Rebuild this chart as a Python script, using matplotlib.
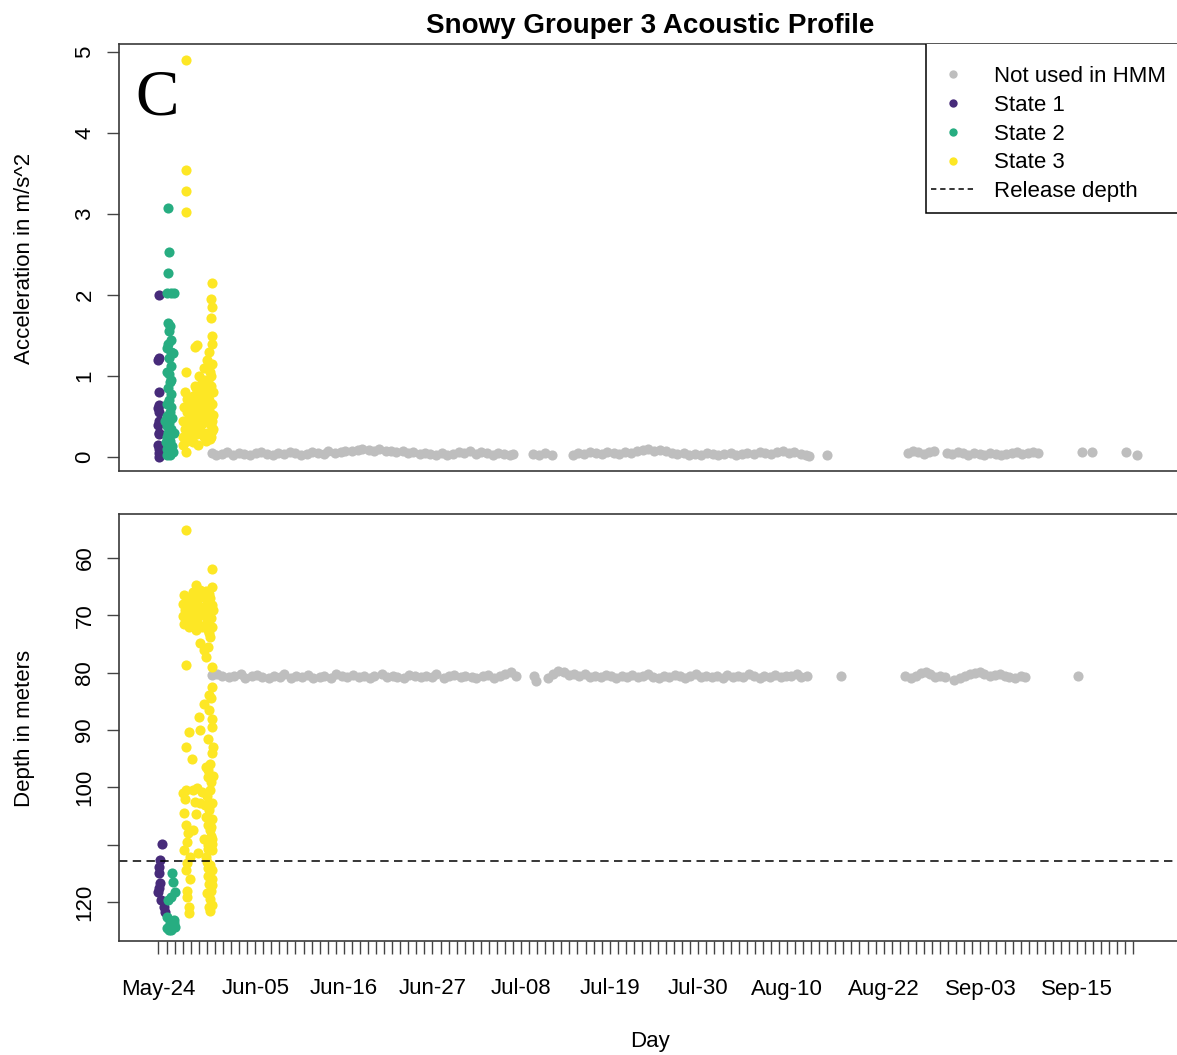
import datetime as dt
import matplotlib
matplotlib.use("Agg")
import matplotlib.pyplot as plt
from matplotlib.lines import Line2D
from matplotlib.patches import Rectangle

plt.rcParams['font.family'] = ['Liberation Sans', 'DejaVu Sans']

start = dt.date(2019, 5, 24)
x_labels = ["May-24", "Jun-05", "Jun-16", "Jun-27", "Jul-08", "Jul-19",
            "Jul-30", "Aug-10", "Aug-22", "Sep-03", "Sep-15"]
last_tick = "Sep-22"
release_depth = 112.9

state_names = ["Not used in HMM", "State 1", "State 2", "State 3"]
state_colors = ["#BEBEBE", "#472B7A", "#27AD81", "#FDE725"]

# ---- acceleration (m/s^2); times are days since May-24 ----
s1_acc_t = [0.05, 0.1, 0.0, 0.1, 0.05, 0.0, 0.1, 0.05, 0.0, 0.1, 0.05, 0.0,
            0.1, 0.05, 0.1]
s1_acc = [2.00, 1.22, 1.20, 0.80, 0.64, 0.60, 0.55, 0.45, 0.40, 0.30, 0.28,
          0.15, 0.10, 0.05, 0.00]

s2_acc_t = [1.2, 1.25, 1.2, 1.1, 1.5, 1.9,
            1.2, 1.4, 1.3, 1.5, 1.2, 1.0, 1.6, 1.8, 1.3, 1.5, 1.3, 1.4, 1.2,
            1.5, 1.3, 1.1, 1.6, 1.4, 1.0, 1.7, 1.3, 1.1, 1.5, 1.2, 1.6, 1.0,
            1.4, 1.2, 1.7, 1.0, 1.3, 1.5, 1.1, 1.4, 1.8, 0.9, 0.8, 1.9, 1.6,
            1.0]
s2_acc = [3.07, 2.53, 2.27, 2.03, 2.03, 2.03,
          1.65, 1.62, 1.55, 1.45, 1.40, 1.35, 1.30, 1.28, 1.22, 1.12, 1.02,
          0.92, 0.85, 0.78, 0.70, 0.65, 0.62, 0.55, 0.50, 0.48, 0.42, 0.38,
          0.35, 0.30, 0.28, 0.25, 0.20, 0.16, 0.14, 0.10, 0.08, 0.05, 0.03,
          0.02, 0.06, 0.18, 0.45, 0.30, 0.95, 1.05]

s3_acc_t = [3.4, 3.4, 3.4, 3.4, 6.6, 6.5, 6.6, 6.5, 3.4, 3.4, 4.8, 4.5, 6.65,
            3.0, 3.1, 3.2, 3.3, 3.5, 3.6, 3.7, 3.8, 3.9, 4.0, 4.1, 4.2, 4.3,
            4.4, 4.5, 4.6, 4.7, 4.8, 4.9, 5.0, 5.0, 5.1, 5.2, 5.3, 5.4, 5.5,
            5.6, 5.6, 5.7, 5.8, 5.9, 6.0, 6.0, 6.1, 6.2, 6.2, 6.3, 6.3, 6.4,
            6.4, 6.5, 6.5, 6.6, 6.6, 6.7, 6.7, 6.8, 6.8, 6.5, 6.3, 6.7,
            3.1, 3.3, 3.5, 3.7, 3.9, 4.1, 4.3, 4.5, 4.7, 4.9, 5.1, 5.3, 5.5,
            5.7, 5.9, 6.1, 6.3, 6.5, 6.7, 3.6, 4.0, 4.4, 4.8, 5.2, 5.6, 6.0,
            6.4, 6.8, 5.4, 6.2]
s3_acc = [4.90, 3.54, 3.28, 3.03, 2.15, 1.95, 1.85, 1.72, 1.05, 0.06, 1.38,
          1.36, 1.49,
          0.25, 0.45, 0.62, 0.35, 0.55, 0.72, 0.30, 0.48, 0.65, 0.22, 0.40,
          0.58, 0.75, 0.33, 0.50, 0.68, 0.85, 0.28, 0.45, 0.62, 1.00, 0.80,
          0.35, 0.55, 0.92, 0.70, 0.25, 1.10, 0.48, 0.85, 0.62, 1.20, 0.30,
          0.95, 0.45, 0.75, 1.30, 0.58, 1.05, 0.22, 0.88, 0.40, 1.40, 0.65,
          1.15, 0.32, 0.80, 0.52, 1.00, 0.70, 0.45,
          0.15, 0.80, 0.20, 0.58, 0.35, 0.70, 0.18, 0.88, 0.40, 0.15, 0.55,
          0.78, 0.42, 0.95, 0.20, 0.58, 0.85, 0.25, 0.50, 0.40, 0.55, 0.62,
          0.50, 0.68, 0.82, 0.70, 0.48, 0.35, 0.30, 1.12]

gray_acc_t = [6.6, 7.2, 7.9, 8.5, 9.3, 10.0, 10.6, 11.4, 12.1, 12.7,
              13.5, 14.2, 14.8, 15.6, 16.3, 16.9, 17.7, 18.4, 19.0, 19.8,
              20.5, 21.1, 21.9, 22.6, 23.2, 24.0, 24.7, 25.3, 26.1, 26.8,
              27.4, 28.2, 28.9, 29.5, 30.3, 31.0, 31.6, 32.4, 33.1, 33.7,
              34.5, 35.2, 35.8, 36.6, 37.3, 37.9, 38.7, 39.4, 40.0, 40.8,
              41.5, 42.1, 42.9, 43.6, 44.0,
              46.5, 47.2, 48.0, 48.8,
              51.4, 52.1, 52.8, 53.6, 54.3, 55.0, 55.7, 56.5, 57.2, 57.9,
              58.6, 59.4, 60.1, 60.8, 61.5, 62.3, 63.0, 63.7, 64.4, 65.2,
              65.9, 66.6, 67.3, 68.1, 68.8, 69.5, 70.2, 71.0, 71.7, 72.4,
              73.1, 73.9, 74.6, 75.3, 76.0, 76.8, 77.5, 78.2, 78.9, 79.7,
              80.4, 80.7,
              83.0,
              93.0, 93.6, 94.3, 95.0, 95.6, 96.3, 97.9, 98.5, 99.2, 99.9,
              100.5, 101.2, 101.9, 102.5, 103.2, 103.9, 104.5, 105.2, 105.9,
              106.5, 107.2, 107.9, 108.5, 109.2,
              114.6, 115.8,
              120.1, 121.4]
gray_acc = [0.05, 0.03, 0.04, 0.06, 0.03, 0.05, 0.04, 0.03, 0.05, 0.06,
            0.04, 0.03, 0.05, 0.04, 0.06, 0.05, 0.03, 0.04, 0.06, 0.05,
            0.04, 0.07, 0.05, 0.06, 0.08, 0.07, 0.09, 0.10, 0.09, 0.08,
            0.10, 0.07, 0.08, 0.06, 0.07, 0.05, 0.06, 0.04, 0.05, 0.04,
            0.03, 0.05, 0.03, 0.04, 0.06, 0.05, 0.07, 0.04, 0.06, 0.05,
            0.03, 0.05, 0.04, 0.03, 0.04,
            0.04, 0.03, 0.05, 0.03,
            0.03, 0.05, 0.04, 0.06, 0.05, 0.04, 0.06, 0.05, 0.04, 0.06,
            0.05, 0.07, 0.09, 0.10, 0.08, 0.09, 0.07, 0.05, 0.04, 0.05,
            0.03, 0.04, 0.03, 0.05, 0.04, 0.03, 0.04, 0.05, 0.03, 0.04,
            0.05, 0.04, 0.06, 0.05, 0.04, 0.06, 0.07, 0.05, 0.06, 0.04,
            0.03, 0.01,
            0.03,
            0.05, 0.07, 0.06, 0.04, 0.06, 0.07, 0.05, 0.04, 0.06, 0.05,
            0.03, 0.05, 0.04, 0.03, 0.05, 0.04, 0.03, 0.04, 0.05,
            0.06, 0.04, 0.05, 0.06, 0.05,
            0.06, 0.06,
            0.06, 0.03]

# ---- depth (m) ----
s1_dep_t = [0.4, 0.2, 0.1, 0.1, 0.2, 0.0, 0.3, 0.7, 0.8, 0.1]
s1_dep = [109.8, 112.7, 113.9, 115.0, 116.7, 118.2, 119.7, 120.9, 121.7,
          117.5]

s2_dep_t = [1.7, 1.8, 2.0, 1.5, 1.2, 1.1, 1.4, 1.9, 1.6, 1.0, 1.9, 2.1, 1.3]
s2_dep = [115.0, 116.5, 118.2, 119.1, 119.7, 122.6, 123.7, 123.7, 124.9,
          124.6, 123.2, 124.3, 124.9]

s3_dep_t = [3.4, 6.6, 4.6, 6.6,
            3.2, 3.5, 3.3, 3.6, 3.2, 4.0, 4.3, 4.5, 4.2, 4.7, 5.0, 5.3, 5.5,
            5.2, 5.8, 6.0, 6.2, 6.4, 6.5, 6.7, 6.3, 5.9, 3.0,
            3.4, 5.2, 6.4, 5.9, 6.6, 5.6, 6.2, 6.6, 6.3, 5.7, 5.0, 6.6, 3.8,
            5.2, 3.4, 6.8, 4.2, 5.9, 6.1, 3.4, 4.3, 6.4, 5.2, 6.6, 4.6, 5.9,
            3.4, 6.4, 4.3, 6.6, 3.9, 5.9, 3.4, 6.6, 6.3, 3.6, 3.8, 6.3, 3.8,
            6.5,
            6.2, 6.5, 6.0, 6.3, 6.6, 6.1, 6.5, 6.2, 6.7, 6.0, 6.4, 6.2, 6.6,
            6.0, 6.4, 6.7, 6.1, 5.6, 5.8, 5.4, 4.8, 4.5, 3.2, 3.0, 3.7, 4.9,
            3.5,
            3.6, 3.9, 4.1, 4.6, 4.9, 5.1, 5.4, 5.7, 6.0, 6.3, 6.6, 3.1, 3.8,
            4.4, 5.6, 6.1, 6.8, 4.8,
            6.5, 6.3, 6.7, 6.2, 6.6, 6.4, 6.8, 6.3, 6.5, 6.7, 6.2, 6.6, 6.4,
            3.3, 3.6, 3.9, 3.5, 3.2]
s3_dep = [55.2, 61.9, 64.7, 65.0,
          66.5, 67.5, 69.0, 70.5, 71.5, 68.0, 66.0, 69.5, 71.0, 72.5, 67.0,
          68.5, 70.0, 71.8, 66.5, 68.0, 69.5, 67.0, 70.5, 72.0, 73.0, 65.8,
          70.2,
          78.7, 74.8, 73.7, 77.2, 79.0, 76.0, 75.5, 82.5, 83.9, 85.4, 87.7,
          88.0, 90.3, 90.0, 92.9, 92.9, 95.0, 96.4, 98.2, 100.5, 100.5,
          100.5, 102.8, 102.8, 104.6, 105.1, 106.6, 107.5, 107.5, 109.8,
          112.1, 112.1, 114.5, 114.5, 116.8, 119.1, 120.9, 120.9, 122.0,
          118.0,
          97.0, 99.0, 101.5, 103.5, 105.5, 106.5, 108.5, 110.0, 111.0, 113.0,
          113.5, 115.5, 117.0, 118.5, 119.5, 120.5, 110.8, 109.0, 103.0,
          100.8, 100.2, 102.5, 104.5, 101.0, 108.0, 111.5, 113.2,
          68.5, 66.8, 70.0, 67.5, 69.8, 65.5, 72.0, 68.8, 71.2, 66.2, 68.2,
          68.0, 72.0, 68.5, 66.8, 72.5, 69.0, 71.0,
          84.5, 86.5, 89.5, 91.5, 94.0, 96.0, 98.0, 104.0, 107.0, 109.0,
          114.0, 116.0, 121.5,
          102.0, 109.5, 116.0, 118.0, 111.0]

gray_dep_t = [6.6, 7.3, 7.9, 8.8, 9.4, 10.2, 10.7, 11.6, 12.2, 12.9,
              13.7, 14.3, 15.1, 15.6, 16.5, 17.1, 17.8, 18.6, 19.2, 20.0,
              20.5, 21.4, 22.0, 22.8, 23.4, 24.1, 24.9, 25.5, 26.3, 26.8,
              27.7, 28.3, 29.1, 29.6, 30.5, 31.1, 31.8, 32.6, 33.2, 34.0,
              34.5, 35.4, 36.0, 36.7, 37.5, 38.1, 38.9, 39.4, 40.3, 40.9,
              41.6, 42.4, 43.0, 43.8, 44.4,
              46.6, 46.9,
              48.4, 49.0, 49.6, 50.3, 50.9, 51.6, 52.2, 52.9, 53.5, 54.2,
              54.9, 55.5, 56.2, 56.8, 57.5, 58.1, 58.8, 59.5, 60.1, 60.8,
              61.4, 62.1, 62.7, 63.4, 64.1, 64.7, 65.4, 66.0, 66.7, 67.3,
              68.0, 68.7, 69.3, 70.0, 70.6, 71.3, 71.9, 72.6, 73.3, 73.9,
              74.6, 75.2, 75.9, 76.5, 77.2, 77.9, 78.5, 79.2, 79.8, 80.5,
              84.7,
              92.6, 93.4, 94.0, 94.6, 95.2, 95.8, 96.4, 97.0, 97.6, 98.7,
              99.5, 100.1, 100.7, 101.3, 101.9, 102.5, 103.2, 103.8, 104.4,
              105.0, 105.6, 106.3, 107.0, 107.6,
              114.1]
gray_dep = [80.4, 80.2, 80.6, 80.8, 80.5, 80.3, 80.9, 80.6, 80.4, 80.8,
            81.0, 80.5, 80.7, 80.3, 80.9, 80.6, 80.8, 80.4, 81.0, 80.7,
            80.5, 80.9, 80.3, 80.6, 80.8, 80.4, 80.7, 80.5, 80.9, 80.6,
            80.3, 80.8, 80.5, 80.7, 80.9, 80.4, 80.6, 80.8, 80.5, 80.7,
            80.3, 80.9, 80.6, 80.4, 80.8, 80.5, 80.7, 80.9, 80.6, 80.4,
            80.9, 80.6, 80.2, 79.9, 80.5,
            80.6, 81.5,
            80.9, 80.3, 79.7, 79.9, 80.4, 80.2, 80.6, 80.3, 80.7, 80.5,
            80.8, 80.4, 80.6, 80.9, 80.5, 80.7, 80.4, 80.8, 80.6, 80.3,
            80.7, 81.0, 80.5, 80.8, 80.4, 80.6, 80.9, 80.5, 80.3, 80.7,
            80.5, 80.8, 80.6, 80.9, 80.4, 80.7, 80.5, 80.8, 80.3, 80.6,
            80.9, 80.5, 80.7, 80.4, 80.8, 80.5, 80.6, 80.3, 80.7, 80.5,
            80.6,
            80.5, 80.9, 80.6, 80.1, 79.8, 80.2, 80.7, 80.5, 80.8, 81.3,
            80.9, 80.5, 80.3, 80.1, 79.8, 80.2, 80.6, 80.4, 80.2,
            80.5, 80.7, 80.9, 80.6, 80.8,
            80.6]


def day_of(label):
    d = dt.datetime.strptime(f"{label}-{start.year}", "%b-%d-%Y").date()
    return (d - start).days


W, H = 1177, 1055
fig = plt.figure(figsize=(W / 100, H / 100), dpi=100)
ax_top = fig.add_axes([119 / W, 1 - 471 / H, 1062 / W, 427 / H])
ax_bot = fig.add_axes([119 / W, 1 - 941 / H, 1062 / W, 427 / H])

dot = dict(linestyle='none', marker='o', ms=7.3, mec='none')
series_top = [(gray_acc_t, gray_acc), (s1_acc_t, s1_acc),
              (s2_acc_t, s2_acc), (s3_acc_t, s3_acc)]
series_bot = [(gray_dep_t, gray_dep), (s1_dep_t, s1_dep),
              (s2_dep_t, s2_dep), (s3_dep_t, s3_dep)]
for (t, v), c in zip(series_top, state_colors):
    ax_top.plot(t, v, color=c, **dot)
for (t, v), c in zip(series_bot, state_colors):
    ax_bot.plot(t, v, color=c, **dot)

ax_bot.axhline(release_depth, color='black', lw=1.1,
               linestyle=(0, (5.5, 3.5)))

for ax in (ax_top, ax_bot):
    ax.set_xlim(-4.9, 126.9)
    for s in ax.spines.values():
        s.set_color('#3a3a3a')
        s.set_linewidth(1.2)
    ax.tick_params(direction='out', length=9, width=1.0, color='#444444',
                   labelsize=16)

ax_top.set_ylim(-0.173, 5.099)
ax_top.set_yticks(range(6))
ax_top.set_xticks([])
ax_top.tick_params(axis='y', pad=8)
for lbl in ax_top.get_yticklabels():
    lbl.set_rotation(90)
    lbl.set_va('center')

ax_bot.set_ylim(126.8, 52.33)
depth_ticks = [60, 70, 80, 90, 100, 110, 120]
ax_bot.set_yticks(depth_ticks)
ax_bot.set_yticklabels([str(d) if d != 110 else '' for d in depth_ticks],
                       rotation=90, va='center')
ax_bot.tick_params(axis='y', pad=8)

labelled = {day_of(l): l for l in x_labels}
all_days = list(range(day_of(last_tick) + 1))
ax_bot.set_xticks(all_days)
ax_bot.set_xticklabels([labelled.get(d, '') for d in all_days])
ax_bot.tick_params(axis='x', pad=18)

ax_top.set_title("Snowy Grouper 3 Acoustic Profile", fontsize=20,
                 fontweight='bold', pad=8)
ax_top.text(0.036, 0.872, "C", transform=ax_top.transAxes, ha='center',
            va='center', fontsize=47, family='Liberation Serif')

fig.text(25 / W, 1 - 258 / H, "Acceleration in m/s^2", rotation=90,
         ha='center', va='center', fontsize=16)
fig.text(25 / W, 1 - 728 / H, "Depth in meters", rotation=90,
         ha='center', va='center', fontsize=16)
fig.text(650 / W, 1 - 1042 / H, "Day", ha='center', va='center',
         fontsize=16)


def ax_xy(px, py):
    # pixel position in the figure -> top-axes fraction
    return (px - 119) / 1062, (471 - py) / 427


# legend box drawn separately so the inner padding can follow the R layout
box_x, box_y = ax_xy(926, 213)
ax_top.add_patch(Rectangle((box_x, box_y), 1.05 - box_x, 1.05 - box_y,
                           transform=ax_top.transAxes, facecolor='white',
                           edgecolor='black', lw=1.1, clip_on=True,
                           zorder=4))

handles = [Line2D([], [], linestyle='none', marker='o', ms=6, mec='none',
                  color=c) for c in state_colors]
handles.append(Line2D([], [], color='black', lw=1.1,
                      linestyle=(0, (3.5, 2.5))))
leg = ax_top.legend(handles, state_names + ["Release depth"],
                    loc='upper left', bbox_to_anchor=ax_xy(931, 66),
                    borderaxespad=0, borderpad=0, fontsize=16,
                    frameon=False, handlelength=2.0, handletextpad=0.85,
                    labelspacing=0.35)
leg.set_zorder(5)

fig.savefig("out.png", dpi=100)
